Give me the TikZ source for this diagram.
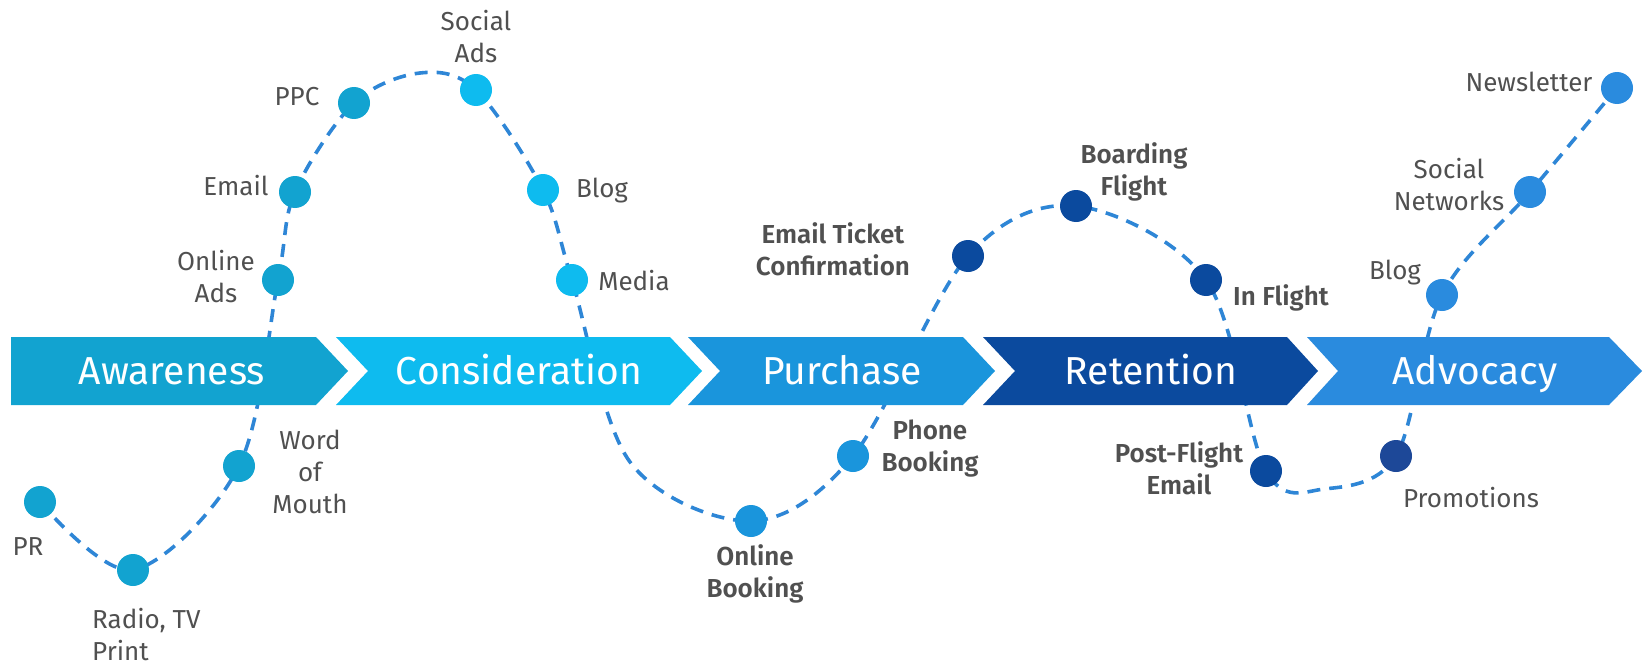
\documentclass[tikz,border=0pt]{standalone}
\usepackage{fontspec}
\setmainfont{Fira Sans}[BoldFont={Fira Sans SemiBold}]
\definecolor{awc}{HTML}{12A3D0}
\definecolor{conc}{HTML}{0EBBEF}
\definecolor{purc}{HTML}{1A95DC}
\definecolor{retc}{HTML}{0B4A9E}
\definecolor{advc}{HTML}{2A8BDE}
\definecolor{promoc}{HTML}{1D4898}
\definecolor{linec}{HTML}{2E86D6}
\definecolor{txtgray}{HTML}{505050}
\tikzset{
  tdot/.style={circle, minimum size=32pt, inner sep=0pt, fill=#1},
  lbl/.style={font=\fontsize{26}{32}\selectfont, text=txtgray, align=center, inner sep=0pt},
  blbl/.style={font=\fontsize{26}{32}\selectfont\bfseries, text=txtgray, align=center, inner sep=0pt},
  bandtxt/.style={text=white, font=\fontsize{39}{44}\selectfont, inner sep=0pt, anchor=base},
  dashline/.style={draw=linec, line width=3.6pt, dash pattern=on 13pt off 9pt},
}
\begin{document}
\begin{tikzpicture}[x=1pt,y=-1pt]
\useasboundingbox (0,0) rectangle (1650,669);
% dot positions
\coordinate (pr) at (40,502);
\coordinate (radio) at (133,570);
\coordinate (wom) at (239,466);
\coordinate (oads) at (278,280);
\coordinate (email) at (295,192);
\coordinate (ppc) at (354,103);
\coordinate (peak) at (420,73);
\coordinate (sads) at (476,90);
\coordinate (blog1) at (543,190);
\coordinate (media) at (572,280);
\coordinate (low1) at (630,462);
\coordinate (obook) at (751,521);
\coordinate (pbook) at (853,456);
\coordinate (eticket) at (968,256);
\coordinate (board) at (1076,206);
\coordinate (inflight) at (1206,280);
\coordinate (postf) at (1266,471);
\coordinate (low2) at (1324,489);
\coordinate (promo) at (1396,456);
\coordinate (blog2) at (1442,295);
\coordinate (socnet) at (1530,192);
\coordinate (news) at (1617,88);
% dashed journey line
\draw[dashline] plot[smooth, tension=0.55] coordinates {(pr) (radio) (wom) (oads) (email) (ppc) (peak) (sads) (blog1) (media) (low1) (obook) (pbook) (eticket) (board) (inflight) (postf) (low2) (promo) (blog2) (socnet) (news)};
% band
\fill[awc] (11,337) -- (316,337) -- (348,371) -- (316,405) -- (11,405) -- cycle;
\fill[conc] (336,337) -- (670,337) -- (702,371) -- (670,405) -- (336,405) -- (368,371) -- cycle;
\fill[purc] (688,337) -- (963,337) -- (995,371) -- (963,405) -- (688,405) -- (720,371) -- cycle;
\fill[retc] (983,337) -- (1287,337) -- (1318,371) -- (1287,405) -- (983,405) -- (1015,371) -- cycle;
\fill[advc] (1307,337) -- (1609,337) -- (1642,371) -- (1609,405) -- (1307,405) -- (1338,371) -- cycle;
\node[bandtxt] (tAw) at (172,384) {Awareness};
\node[bandtxt] (tCo) at (519,384) {Consideration};
\node[bandtxt] (tPu) at (842,384) {Purchase};
\node[bandtxt] (tRe) at (1151,384) {Retention};
\node[bandtxt] (tAd) at (1475,384) {Advocacy};
% dots
\node[tdot=awc] (dpr) at (pr) {};
\node[tdot=awc] (dradio) at (radio) {};
\node[tdot=awc] (dwom) at (wom) {};
\node[tdot=awc] (doads) at (oads) {};
\node[tdot=awc] (demail) at (email) {};
\node[tdot=awc] (dppc) at (ppc) {};
\node[tdot=conc] (dsads) at (sads) {};
\node[tdot=conc] (dblog1) at (blog1) {};
\node[tdot=conc] (dmedia) at (media) {};
\node[tdot=purc] (dobook) at (obook) {};
\node[tdot=purc] (dpbook) at (pbook) {};
\node[tdot=retc] (deticket) at (eticket) {};
\node[tdot=retc] (dboard) at (board) {};
\node[tdot=retc] (dinflight) at (inflight) {};
\node[tdot=retc] (dpostf) at (postf) {};
\node[tdot=promoc] (dpromo) at (promo) {};
\node[tdot=advc] (dblog2) at (blog2) {};
\node[tdot=advc] (dsocnet) at (socnet) {};
\node[tdot=advc] (dnews) at (news) {};
% labels
\node[lbl] (lpr) at (28,547) {PR};
\node[lbl, align=left, anchor=north west] (lradio) at (92,608) {Radio, TV\\Print};
\node[lbl] (lwom) at (310,472) {Word\\of\\Mouth};
\node[lbl] (loads) at (216,277) {Online\\Ads};
\node[lbl] (lemail) at (236,186) {Email};
\node[lbl] (lppc) at (297,97) {PPC};
\node[lbl] (lsads) at (476,37) {Social\\Ads};
\node[lbl] (lblog1) at (602,191) {Blog};
\node[lbl] (lmedia) at (634,281) {Media};
\node[blbl] (lobook) at (755,574) {Online\\Booking};
\node[blbl] (lpbook) at (930,449) {Phone\\Booking};
\node[blbl] (leticket) at (833,249) {Email Ticket\\Confirmation};
\node[blbl] (lboard) at (1134,172) {Boarding\\Flight};
\node[blbl] (linflight) at (1281,298) {In Flight};
\node[blbl] (lpostf) at (1179,468) {Post-Flight\\Email};
\node[lbl] (lpromo) at (1471,498) {Promotions};
\node[lbl] (lblog2) at (1395,273) {Blog};
\node[lbl] (lsocnet) at (1449,185) {Social\\Networks};
\node[lbl] (lnews) at (1529,82) {Newsletter};
\end{tikzpicture}
\end{document}
